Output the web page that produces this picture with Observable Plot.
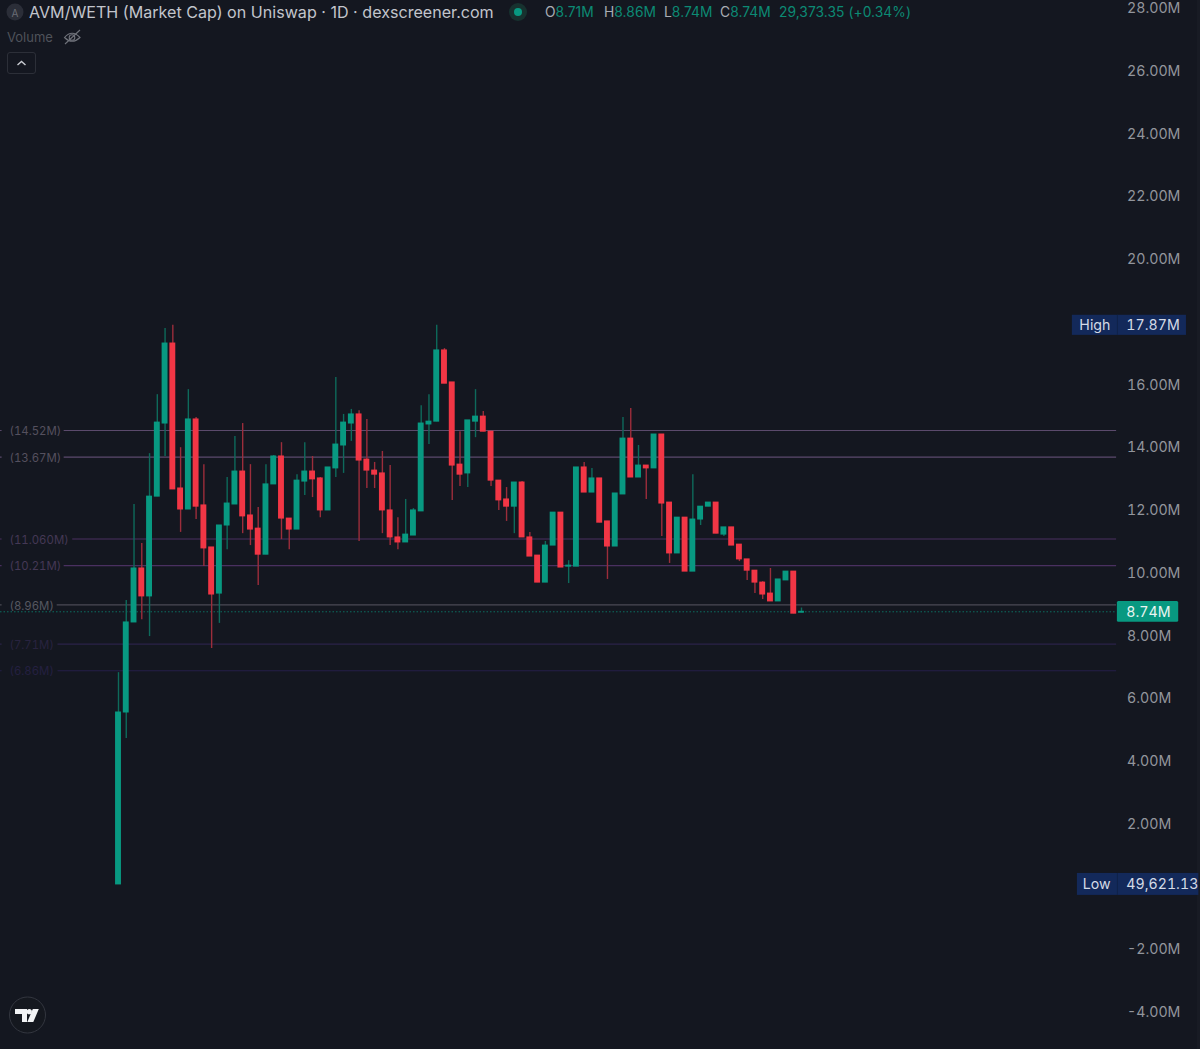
<!DOCTYPE html>
<html><head><meta charset="utf-8">
<script src="https://cdn.jsdelivr.net/npm/d3@7"></script>
<script src="https://cdn.jsdelivr.net/npm/@observablehq/plot@0.6"></script>
<style>
html,body{margin:0;padding:0;background:#141720;width:1200px;height:1049px;overflow:hidden}
#wrap{position:relative;width:1200px;height:1049px}
.t{position:absolute;white-space:nowrap;font-family:Inter,"Noto Sans",sans-serif;line-height:1}
svg text{font-variant-numeric:tabular-nums}
</style></head><body>
<div id="wrap"></div>
<script>
// Daily candles, values in millions of market cap
const opens=[0.05,5.53,8.40,10.12,9.23,12.41,14.74,17.29,12.67,12.00,14.87,12.13,10.79,9.32,11.49,12.16,13.21,11.81,11.39,10.56,12.80,13.69,11.71,11.36,12.89,13.21,12.99,11.97,13.31,14.04,14.74,15.03,13.59,13.24,13.15,11.97,11.11,10.95,11.17,11.94,14.71,14.80,17.07,16.05,13.43,13.15,14.80,14.96,14.48,12.92,12.32,12.09,12.86,11.11,10.53,9.67,10.85,11.90,10.18,10.18,13.34,12.54,12.99,11.62,10.82,12.48,14.26,13.02,13.40,13.31,14.39,12.22,10.60,11.74,10.02,11.68,12.09,12.22,11.20,11.43,10.88,10.41,10.05,9.67,9.32,9.07,9.74,10.02,8.71];
const closes=[5.53,8.40,10.12,9.23,12.41,14.77,17.29,12.64,12.00,14.87,12.09,10.76,9.29,11.49,12.19,13.21,11.78,11.36,10.56,12.80,13.69,11.71,11.36,12.92,13.21,12.96,11.97,13.34,14.07,14.77,15.03,13.56,13.24,13.11,11.97,11.11,10.95,11.20,11.97,14.74,14.80,17.07,16.01,13.40,13.11,14.84,14.96,14.48,12.92,12.29,12.09,12.86,11.11,10.50,9.67,10.85,11.90,10.15,10.21,13.34,12.54,12.99,11.58,10.82,12.51,14.26,13.02,13.40,13.31,14.39,12.19,10.60,11.74,10.02,11.68,12.09,12.22,11.23,11.43,10.85,10.41,10.05,9.67,9.29,9.07,9.77,10.02,8.68,8.74];
const highs=[6.80,9.10,12.16,10.92,13.78,15.66,17.77,17.87,13.97,15.82,14.93,13.43,10.79,11.49,13.02,14.33,14.74,13.43,12.06,13.43,13.72,14.13,11.71,13.11,14.13,13.69,13.02,13.34,16.21,15.03,15.19,15.15,14.87,13.50,13.85,13.40,11.74,12.32,12.03,15.31,15.66,17.87,17.13,16.05,14.48,14.84,15.82,15.12,14.48,12.92,12.70,12.86,12.89,11.27,10.53,10.98,11.90,11.90,10.37,13.34,13.50,13.31,12.99,11.62,12.51,14.93,15.22,14.04,13.40,14.39,14.39,12.22,11.74,11.74,13.11,12.09,12.22,12.22,11.43,11.43,10.88,10.41,10.05,9.70,10.12,9.77,10.02,10.02,8.86];
const lows=[0.05,4.70,8.40,8.49,7.95,12.41,13.69,12.64,11.27,12.00,11.68,10.18,7.57,8.37,10.72,12.16,11.23,10.85,9.58,10.56,12.80,11.04,10.72,11.36,12.45,12.38,11.74,11.97,13.02,13.15,14.17,10.98,12.67,12.67,11.23,10.85,10.72,10.95,11.17,11.94,14.07,14.80,16.01,12.29,12.73,12.70,14.29,14.48,12.73,11.97,11.62,11.23,11.11,10.50,9.67,9.67,10.85,10.15,9.64,10.18,12.54,12.54,11.58,9.77,10.82,12.48,13.02,13.02,12.32,13.31,11.14,10.28,10.60,10.02,10.02,11.49,12.09,11.23,11.14,10.85,10.34,9.74,9.32,9.13,9.07,9.07,9.74,8.68,8.71];

const yTicks=[28,26,24,22,20,16,14,12,10,8,6,4,2,-2,-4];
const levelValues=[14.52,13.67,11.06,10.21,8.96,7.71,6.86];
const levelLabels=["(14.52M)","(13.67M)","(11.060M)","(10.21M)","(8.96M)","(7.71M)","(6.86M)"];
const levelLine=["#5b4a6c","#5b4a6c","#4a3060","#4a3060","#4a4a54","#2a2348","#241f48"];
const levelText=["#54505e","#54505e","#443855","#443855","#565861","#28233f","#242041"];
const levelStart=[-7,-7,-5.9,-7,-7.9,-7.8,-7.8];
const lastPrice=8.74, highValue=17.87, lowValue=0.05;
const lastLabel="8.74M", highLabel="17.87M", lowLabel="49,621.13";

const UP="#089981", DOWN="#f23645", UPW="#0e6a5b", DOWNW="#9c2d3b";
const candles=opens.map((o,i)=>({i,o,c:closes[i],h:highs[i],l:lows[i],up:closes[i]>=o}));
const levels=levelValues.map((v,k)=>({v,label:levelLabels[k],line:levelLine[k],text:levelText[k],start:levelStart[k]}));

const FONT='Inter,"Noto Sans",sans-serif';
const END=128.6, LEFT=-15.2, TEXTX=129.85, SIZE=14.2;
const tag={textAnchor:"start",fontSize:SIZE,fontFamily:FONT,dy:0.5};
const chart=Plot.plot({
  width:1200,height:1049,margin:0,marginRight:73.5,
  style:{background:"transparent",fontFamily:FONT,fontSize:"14.2px",overflow:"visible"},
  x:{type:"linear",domain:[0,88],range:[118,801],axis:null},
  y:{type:"linear",domain:[-4,28],range:[1011,7],axis:null},
  marks:[
    Plot.ruleY(levels,{y:"v",x1:d=>d.start,x2:END,stroke:"line",strokeWidth:1.1}),
    Plot.ruleY(levels,{y:"v",x1:LEFT,x2:-15,stroke:"line",strokeWidth:1.1}),
    Plot.text(levels,{y:"v",x:-14.05,dy:1,text:"label",fill:"text",textAnchor:"start",fontSize:11.4,fontFamily:FONT}),
    Plot.ruleY([lastPrice],{x1:LEFT,x2:END,stroke:"#0c6f60",strokeWidth:1,strokeDasharray:"1.5 2"}),
    Plot.ruleX(candles,{x:"i",y1:"l",y2:"h",stroke:d=>d.up?UPW:DOWNW,strokeWidth:1.4}),
    Plot.rect(candles,{x1:d=>d.i-0.38,x2:d=>d.i+0.38,y1:d=>Math.min(d.o,d.c),y2:d=>Math.max(d.o,d.c),fill:d=>d.up?UP:DOWN,insetTop:-0.5,insetBottom:-0.5}),
    Plot.axisY({anchor:"right",ticks:yTicks,tickSize:0,tickPadding:0,textAnchor:"start",fill:"#92959c",fontSize:SIZE,dy:1,label:null,fontFamily:FONT,tickFormat:d=>d.toFixed(2)+"M"}),
    // high / low / last tags
    Plot.rect([highValue],{x1:122.9,x2:137.6,y1:d=>d-0.32,y2:d=>d+0.32,fill:"#13295a"}),
    Plot.ruleX([128.7],{y1:highValue-0.32,y2:highValue+0.32,stroke:"#0f2148"}),
    Plot.text(["High"],{x:123.8,y:highValue,text:d=>d,fill:"#d4dae6",...tag}),
    Plot.text([highLabel],{x:TEXTX,y:highValue,text:d=>d,fill:"#d4dae6",...tag}),
    Plot.rect([lowValue],{x1:123.55,x2:139.2,y1:d=>d-0.35,y2:d=>d+0.35,fill:"#13295a"}),
    Plot.ruleX([128.7],{y1:lowValue-0.35,y2:lowValue+0.35,stroke:"#0f2148"}),
    Plot.text(["Low"],{x:124.25,y:lowValue,text:d=>d,fill:"#d4dae6",...tag}),
    Plot.text([lowLabel],{x:TEXTX,y:lowValue,text:d=>d,fill:"#d4dae6",...tag}),
    Plot.rect([lastPrice],{x1:128.7,x2:136.6,y1:d=>d-0.33,y2:d=>d+0.33,fill:UP,rx:1.5}),
    Plot.text([lastLabel],{x:TEXTX,y:lastPrice,text:d=>d,fill:"#eaf5f2",...tag})
  ]
});
const wrap=document.getElementById("wrap");

const G="#0c8a74", W2="#a9adb4", S="font-size:13.8px;letter-spacing:.05px;top:5.5px";
const overlay=document.createElement("div");
overlay.innerHTML=`
<svg width="1200" height="1049" style="position:absolute;left:0;top:0;pointer-events:none">
  <rect x="1197" y="0" width="3" height="1049" fill="#181b24"/>
  <circle cx="15" cy="12" r="8.5" fill="#2b2e38"/>
  <circle cx="518" cy="12" r="9" fill="#17322f"/>
  <circle cx="518" cy="12" r="4" fill="#089981"/>
  <g fill="none" stroke="#70737b" stroke-width="1.1">
    <path d="M64.5 37.5 Q72 29 80 37.5 Q72 45 64.5 37.5Z"/>
    <circle cx="72" cy="37.5" r="2.8"/>
    <path d="M65 44 L80 30"/>
  </g>
  <rect x="7.5" y="52.5" width="28" height="21" rx="2.5" fill="none" stroke="#2c2f38"/>
  <path d="M17.5 65 L21.5 61.5 L25.5 65" fill="none" stroke="#c9ccd2" stroke-width="1.4"/>
  <circle cx="27.5" cy="1015" r="18" fill="#15181f" stroke="#33363f" stroke-width="1"/>
  <path d="M15 1009h12v13h-5v-8h-7zM38.8 1009l-5.5 13h-6l5.5-13z" fill="#f2f3f5"/>
  <circle cx="29.3" cy="1011.7" r="2.6" fill="#f2f3f5"/>
</svg>
<div class="t" style="left:15px;top:7.5px;font-size:10px;color:#6a6d75;transform:translateX(-50%)">A</div>
<div class="t" style="left:29px;top:4px;font-size:16.1px;color:#c2c5cc">AVM/WETH (Market Cap) on Uniswap · 1D · dexscreener.com</div>
<div class="t" style="left:7px;top:31px;font-size:13px;color:#4f525a">Volume</div>
<div class="t" style="left:545px;${S};color:${G}"><span style="color:${W2}">O</span>8.71M</div>
<div class="t" style="left:604px;${S};color:${G}"><span style="color:${W2}">H</span>8.86M</div>
<div class="t" style="left:664px;${S};color:${G}"><span style="color:${W2}">L</span>8.74M</div>
<div class="t" style="left:720px;${S};color:${G}"><span style="color:${W2}">C</span>8.74M</div>
<div class="t" style="left:779px;${S};color:${G}">29,373.35 (+0.34%)</div>`;
wrap.appendChild(overlay);
wrap.appendChild(chart);
chart.style.position="absolute";chart.style.left="0";chart.style.top="0";
</script>
</body></html>
